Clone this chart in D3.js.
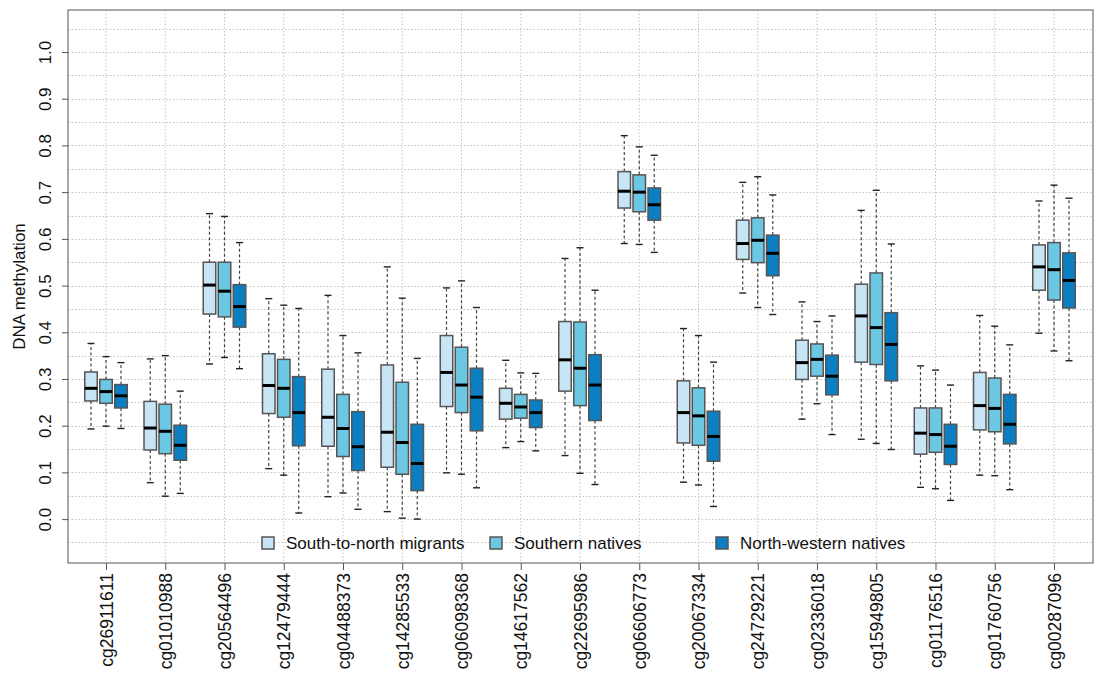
<!DOCTYPE html>
<html>
<head>
<meta charset="utf-8">
<script src="https://cdn.jsdelivr.net/npm/d3@7"></script>
<style>
  body { margin: 0; background: #fff; }
  text { font-family: "Liberation Sans", Arial, sans-serif; fill: #111; }
</style>
</head>
<body>
<div id="vis"></div>
<script>
// CpG sites on the x axis
let genes = ["cg26911611", "cg01010988", "cg20564496", "cg12479444", "cg04488373", "cg14285533",
  "cg06098368", "cg14617562", "cg22695986", "cg06606773", "cg20067334", "cg24729221",
  "cg02336018", "cg15949805", "cg01176516", "cg01760756", "cg00287096"]

let seriesNames = ["South-to-north migrants", "Southern natives", "North-western natives"]

// [lower whisker, Q1, median, Q3, upper whisker]
let migrants = [
  [0.193, 0.253, 0.280, 0.315, 0.376], [0.078, 0.148, 0.195, 0.252, 0.343], [0.332, 0.439, 0.501, 0.550, 0.654],
  [0.108, 0.226, 0.286, 0.354, 0.472], [0.048, 0.156, 0.218, 0.321, 0.479], [0.016, 0.111, 0.186, 0.330, 0.540],
  [0.099, 0.241, 0.314, 0.393, 0.495], [0.153, 0.214, 0.248, 0.280, 0.340], [0.136, 0.274, 0.341, 0.423, 0.558],
  [0.590, 0.666, 0.702, 0.744, 0.821], [0.079, 0.163, 0.228, 0.296, 0.408], [0.484, 0.556, 0.590, 0.640, 0.721],
  [0.214, 0.299, 0.335, 0.383, 0.465], [0.171, 0.336, 0.435, 0.503, 0.661], [0.068, 0.139, 0.184, 0.238, 0.328],
  [0.094, 0.191, 0.243, 0.314, 0.436], [0.398, 0.490, 0.540, 0.587, 0.681]
]
let southern = [
  [0.199, 0.248, 0.273, 0.299, 0.348], [0.049, 0.140, 0.188, 0.246, 0.350], [0.346, 0.433, 0.488, 0.550, 0.648],
  [0.094, 0.218, 0.280, 0.342, 0.458], [0.056, 0.134, 0.194, 0.267, 0.393], [0.002, 0.096, 0.164, 0.293, 0.473],
  [0.096, 0.228, 0.287, 0.368, 0.510], [0.166, 0.216, 0.240, 0.267, 0.313], [0.098, 0.243, 0.323, 0.422, 0.581],
  [0.588, 0.658, 0.700, 0.737, 0.797], [0.073, 0.158, 0.221, 0.281, 0.393], [0.453, 0.549, 0.597, 0.645, 0.733],
  [0.247, 0.306, 0.342, 0.375, 0.423], [0.162, 0.331, 0.410, 0.527, 0.704], [0.065, 0.143, 0.181, 0.238, 0.319],
  [0.093, 0.187, 0.237, 0.302, 0.413], [0.360, 0.469, 0.534, 0.592, 0.715]
]
let northwestern = [
  [0.194, 0.238, 0.264, 0.288, 0.335], [0.055, 0.126, 0.158, 0.201, 0.274], [0.322, 0.411, 0.455, 0.502, 0.592],
  [0.013, 0.157, 0.228, 0.305, 0.451], [0.021, 0.104, 0.155, 0.230, 0.356], [0.000, 0.061, 0.119, 0.203, 0.344],
  [0.067, 0.189, 0.261, 0.323, 0.453], [0.146, 0.196, 0.228, 0.255, 0.312], [0.074, 0.211, 0.287, 0.352, 0.490],
  [0.571, 0.640, 0.673, 0.709, 0.779], [0.027, 0.124, 0.177, 0.231, 0.336], [0.438, 0.521, 0.569, 0.608, 0.694],
  [0.181, 0.266, 0.306, 0.351, 0.435], [0.149, 0.296, 0.374, 0.442, 0.589], [0.040, 0.117, 0.156, 0.203, 0.287],
  [0.063, 0.161, 0.203, 0.267, 0.373], [0.339, 0.452, 0.511, 0.570, 0.687]
]

let yTicks = [0.0, 0.1, 0.2, 0.3, 0.4, 0.5, 0.6, 0.7, 0.8, 0.9, 1.0]
let colors = ["#c8e5f6", "#6cc7e2", "#0b7fc1"]

let svgWidth = 1094
let svgHeight = 676
let margin = { left: 68, right: 1, top: 10, bottom: 113 }
let width = svgWidth - margin.left - margin.right
let height = svgHeight - margin.top - margin.bottom

let svg = d3.select('#vis')
  .append('svg')
  .attr('width', svgWidth)
  .attr('height', svgHeight)

let g = svg.append('g')
  .attr('transform', `translate(${margin.left},${margin.top})`)

// scales
let xScale = d3.scalePoint()
  .domain(genes)
  .range([106 - margin.left, 1054 - margin.left])

let offset = d3.scalePoint()
  .domain(seriesNames)
  .range([-15, 15])

let yScale = d3.scaleLinear()
  .domain([-0.094, 1.09])
  .range([height, 0])

// grid
let gridY = d3.range(-0.05, 1.06, 0.05)
g.selectAll('.hgrid')
  .data(gridY)
  .join('line')
    .attr('class', 'hgrid')
    .attr('x1', 0).attr('x2', width)
    .attr('y1', d => Math.round(yScale(d)) + 0.5)
    .attr('y2', d => Math.round(yScale(d)) + 0.5)
    .attr('stroke', '#c4c4c4')
    .attr('stroke-dasharray', '1.5,2')

g.selectAll('.vgrid')
  .data(genes)
  .join('line')
    .attr('class', 'vgrid')
    .attr('x1', d => xScale(d)).attr('x2', d => xScale(d))
    .attr('y1', 0).attr('y2', height)
    .attr('stroke', '#c4c4c4')
    .attr('stroke-dasharray', '1.5,2')

// boxes
let allSeries = [migrants, southern, northwestern]
let boxW = 12.5
let boxes = []
allSeries.forEach((s, si) => {
  s.forEach((v, gi) => {
    boxes.push({ gene: genes[gi], series: seriesNames[si], si: si, v: v })
  })
})

let bx = d => xScale(d.gene) + offset(d.series)

let box = g.selectAll('.box')
  .data(boxes)
  .join('g')
    .attr('class', 'box')

// whiskers
box.append('line')
  .attr('x1', bx).attr('x2', bx)
  .attr('y1', d => yScale(d.v[3])).attr('y2', d => yScale(d.v[4]))
  .attr('stroke', '#444').attr('stroke-width', 1.2).attr('stroke-dasharray', '3,2.5')
box.append('line')
  .attr('x1', bx).attr('x2', bx)
  .attr('y1', d => yScale(d.v[1])).attr('y2', d => yScale(d.v[0]))
  .attr('stroke', '#444').attr('stroke-width', 1.2).attr('stroke-dasharray', '3,2.5')

// caps
box.selectAll('.cap')
  .data(d => [d, d].map((e, i) => ({ x: bx(d), y: yScale(d.v[i === 0 ? 0 : 4]) })))
  .join('line')
    .attr('class', 'cap')
    .attr('x1', d => d.x - 3.5).attr('x2', d => d.x + 3.5)
    .attr('y1', d => d.y).attr('y2', d => d.y)
    .attr('stroke', '#222').attr('stroke-width', 1.4)

box.append('rect')
  .attr('x', d => bx(d) - boxW / 2)
  .attr('width', boxW)
  .attr('y', d => yScale(d.v[3]))
  .attr('height', d => yScale(d.v[1]) - yScale(d.v[3]))
  .attr('fill', d => colors[d.si])
  .attr('stroke', '#555')
  .attr('stroke-width', 1.5)

box.append('line')
  .attr('x1', d => bx(d) - boxW / 2).attr('x2', d => bx(d) + boxW / 2)
  .attr('y1', d => yScale(d.v[2])).attr('y2', d => yScale(d.v[2]))
  .attr('stroke', '#000').attr('stroke-width', 3)

// frame
g.append('rect')
  .attr('x', 0).attr('y', 0)
  .attr('width', width).attr('height', height)
  .attr('fill', 'none')
  .attr('stroke', '#555')

// axes
let yAxis = d3.axisLeft(yScale)
  .tickValues(yTicks)
  .tickFormat(d3.format('.1f'))
  .tickSize(6)
  .tickPadding(0)

let yg = g.append('g').call(yAxis)
yg.select('.domain').remove()
yg.selectAll('line').attr('stroke', '#555')
yg.selectAll('text')
  .attr('transform', 'rotate(-90)')
  .attr('x', 0)
  .attr('y', -23)
  .attr('dy', '0.35em')
  .attr('text-anchor', 'middle')
  .style('font-size', '17px')

let xAxis = d3.axisBottom(xScale).tickSize(7)
let xg = g.append('g')
  .attr('transform', `translate(0,${height})`)
  .call(xAxis)
xg.select('.domain').remove()
xg.selectAll('line').attr('stroke', '#555')
xg.selectAll('text')
  .attr('transform', 'rotate(-90)')
  .attr('x', -10)
  .attr('y', 0)
  .attr('dy', '0.35em')
  .attr('text-anchor', 'end')
  .style('font-size', '17.5px')

// y title
svg.append('text')
  .attr('transform', `translate(25,${margin.top + height / 2}) rotate(-90)`)
  .attr('text-anchor', 'middle')
  .style('font-size', '17px')
  .text('DNA methylation')

// legend
let legendX = [262, 490, 716]
let legend = svg.selectAll('.legend')
  .data(seriesNames)
  .join('g')
    .attr('class', 'legend')
    .attr('transform', (d, i) => `translate(${legendX[i]},543)`)
legend.append('rect')
  .attr('x', 0).attr('y', -6)
  .attr('width', 12).attr('height', 12)
  .attr('fill', (d, i) => colors[i])
  .attr('stroke', '#555')
  .attr('stroke-width', 1.5)
legend.append('text')
  .attr('x', 24)
  .attr('dy', '0.35em')
  .style('font-size', '17px')
  .text(d => d)
</script>
</body>
</html>
